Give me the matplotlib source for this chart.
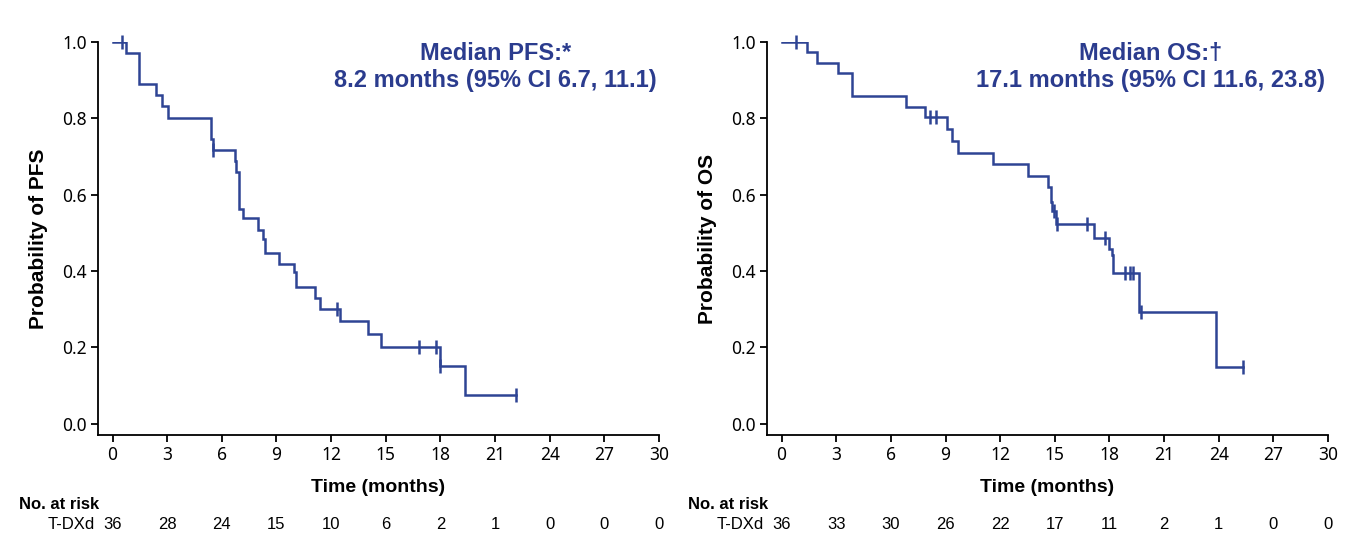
import matplotlib
matplotlib.use("Agg")
import matplotlib.pyplot as plt
import matplotlib.transforms as mtransforms

# ---------------- data ----------------
pfs_times = [0, 0.75, 1.45, 2.37, 2.73, 3.06, 5.38, 5.53, 6.72, 6.80, 6.95, 7.14,
             7.99, 8.26, 8.35, 9.14, 9.98, 10.05, 11.10, 11.37, 12.49, 14.02,
             14.76, 17.97, 19.34]
pfs_surv = [1.0, 0.972, 0.889, 0.861, 0.831, 0.800, 0.747, 0.717, 0.688, 0.660,
            0.563, 0.538, 0.507, 0.485, 0.448, 0.419, 0.396, 0.358, 0.330, 0.299,
            0.268, 0.234, 0.201, 0.150, 0.076]
pfs_end = 22.16
pfs_cens_t = [0.5, 5.53, 12.31, 16.83, 17.78, 18.0, 22.16]
pfs_cens_s = [1.0, 0.717, 0.299, 0.201, 0.201, 0.150, 0.076]
pfs_risk = [36, 28, 24, 15, 10, 6, 2, 1, 0, 0, 0]

os_times = [0, 1.37, 1.92, 3.09, 3.85, 6.81, 7.86, 9.07, 9.38, 9.69, 11.61,
            13.53, 14.62, 14.78, 14.87, 15.09, 17.16, 18.00, 18.13, 18.22,
            19.60, 23.85]
os_surv = [1.0, 0.973, 0.946, 0.918, 0.859, 0.830, 0.804, 0.773, 0.741, 0.709,
           0.680, 0.649, 0.619, 0.580, 0.557, 0.522, 0.486, 0.457, 0.441, 0.394,
           0.293, 0.147]
os_end = 25.35
os_cens_t = [0.77, 8.13, 8.46, 14.96, 15.12, 16.76, 17.75, 18.85, 19.14, 19.32,
             19.76, 25.35]
os_cens_s = [1.0, 0.804, 0.804, 0.557, 0.522, 0.522, 0.486, 0.394, 0.394, 0.394,
             0.293, 0.147]
os_risk = [36, 33, 30, 26, 22, 17, 11, 2, 1, 0, 0]

x_ticks = [0, 3, 6, 9, 12, 15, 18, 21, 24, 27, 30]
y_ticks = [0.0, 0.2, 0.4, 0.6, 0.8, 1.0]
y_tick_labels = ["0.0", "0.2", "0.4", "0.6", "0.8", "1.0"]

panels = [
    dict(times=pfs_times, surv=pfs_surv, end=pfs_end, ct=pfs_cens_t, cs=pfs_cens_s,
         risk=pfs_risk, ylabel="Probability of PFS",
         line1="Median PFS:*", line2="8.2 months (95% CI 6.7, 11.1)", tx=0.708),
    dict(times=os_times, surv=os_surv, end=os_end, ct=os_cens_t, cs=os_cens_s,
         risk=os_risk, ylabel="Probability of OS",
         line1="Median OS:\u2020", line2="17.1 months (95% CI 11.6, 23.8)", tx=0.683),
]

# ---------------- style ----------------
BLUE = "#2E4494"
TEXTBLUE = "#2B3C8E"
W, H = 1360, 556
fig = plt.figure(figsize=(W / 100, H / 100), dpi=100)

ax_rects = [
    [98 / W, 121 / H, 561 / W, 393 / H],
    [767 / W, 121 / H, 561 / W, 393 / H],
]

bold_font = ["Liberation Sans", "DejaVu Sans"]
tick_font = ["Noto Sans", "DejaVu Sans"]
narrow_font = ["Liberation Sans Narrow", "Liberation Sans", "DejaVu Sans"]

for rect, p in zip(ax_rects, panels):
    ax = fig.add_axes(rect)
    t = list(p["times"]) + [p["end"]]
    s = list(p["surv"]) + [p["surv"][-1]]
    ax.step(t, s, where="post", color=BLUE, lw=1.8, solid_joinstyle="miter")
    ax.plot(p["ct"], p["cs"], linestyle="none", marker="|", markersize=10,
            markeredgewidth=1.8, color=BLUE, clip_on=False)

    ax.set_xlim(-0.8, 30)
    ax.set_ylim(-0.03, 1.0)
    ax.set_xticks(x_ticks)
    ax.set_yticks(y_ticks)
    ax.set_yticklabels(y_tick_labels)
    for sp in ["top", "right"]:
        ax.spines[sp].set_visible(False)
    for sp in ["left", "bottom"]:
        ax.spines[sp].set_linewidth(1.3)
    ax.tick_params(axis="both", direction="out", length=5, width=1.3,
                   labelsize=12.5, pad=3, colors="black")
    for lab in ax.get_xticklabels() + ax.get_yticklabels():
        lab.set_family(tick_font)

    ax.set_xlabel("Time (months)", fontsize=14, fontweight="bold", family=bold_font)
    ax.set_ylabel(p["ylabel"], fontsize=15, fontweight="bold", family=bold_font)
    ax.xaxis.set_label_coords(0.5, -0.112)
    ax.yaxis.set_label_coords(-0.09, 0.5)

    ax.text(p["tx"], 0.972, p["line1"], transform=ax.transAxes, ha="center",
            va="center", fontsize=17, fontweight="bold", color=TEXTBLUE,
            family=bold_font)
    ax.text(p["tx"], 0.901, p["line2"], transform=ax.transAxes, ha="center",
            va="center", fontsize=17, fontweight="bold", color=TEXTBLUE,
            family=bold_font)

    # number at risk table
    trans = mtransforms.blended_transform_factory(ax.transData, fig.transFigure)
    for xv, n in zip(x_ticks, p["risk"]):
        ax.text(xv, 0.056, str(n), transform=trans, ha="center", va="center",
                fontsize=12, family=narrow_font)
    ax_left_px = rect[0] * W
    fig.text((ax_left_px - 79) / W, 0.092, "No. at risk", ha="left", va="center",
             fontsize=12, fontweight="bold", family=narrow_font)
    fig.text((ax_left_px - 3) / W, 0.056, "T-DXd", ha="right", va="center",
             fontsize=12, family=narrow_font)

fig.savefig("out.png", dpi=100)
